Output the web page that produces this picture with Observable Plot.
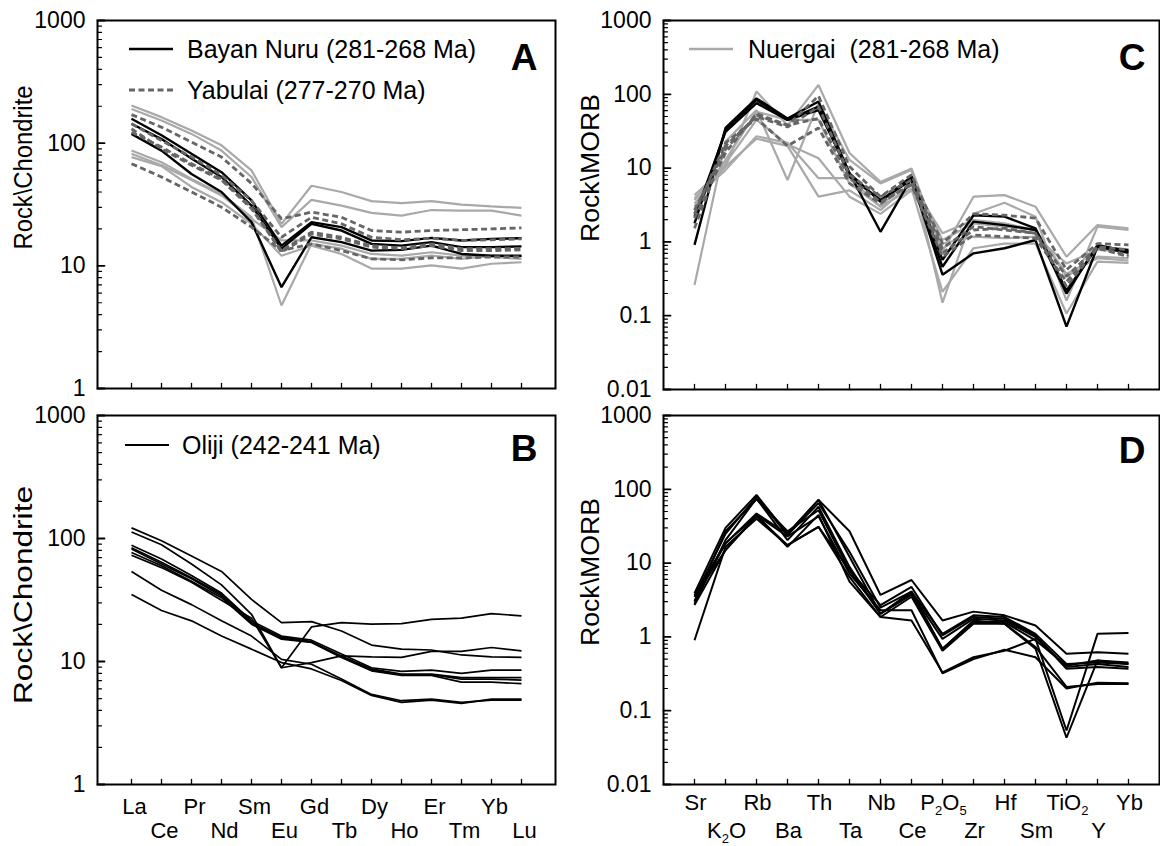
<!DOCTYPE html>
<html>
<head>
<meta charset="utf-8">
<script src="https://cdn.jsdelivr.net/npm/d3@7"></script>
<script src="https://cdn.jsdelivr.net/npm/@observablehq/plot@0.6"></script>
<style>
  body { margin: 0; background: #fff; }
  #fig { position: relative; width: 1160px; height: 846px; font-family: "Liberation Sans", Arial, sans-serif; overflow: hidden; }
  .panel { position: absolute; }
  .legend { position: absolute; display: flex; align-items: center; font-size: 25px; line-height: 30px; white-space: pre; color: #000; }
  .legend svg { display: block; }
</style>
</head>
<body>
<div id="fig"></div>
<script>
// ---------- categories ----------
const REE = ["La","Ce","Pr","Nd","Sm","Eu","Gd","Tb","Dy","Ho","Er","Tm","Yb","Lu"];
const SPIDER = ["Sr","K2O","Rb","Ba","Th","Ta","Nb","Ce","P2O5","Zr","Hf","Sm","TiO2","Y","Yb"];
const chondriteTicks = [1, 10, 100, 1000];
const morbTicks = [0.01, 0.1, 1, 10, 100, 1000];

// ---------- Panel A: chondrite-normalised REE ----------
const bayanNuruREE = [
  [158,116,82,58,34.1,14.6,22.7,20.7,16.1,15.9,16.9,16.1,16.6,16.8],
  [144,108,75,53,31,13.8,22,19.4,15.1,14.6,15.6,14.2,14.2,14.4],
  [119,87,56,40,22.7,6.7,17.1,15.6,13.3,13.5,14.6,12.5,12.1,12.1]
];
const yabulaiREE = [
  [171,135,102,77,47,24.2,27.4,24.9,19.4,18.8,19.4,19.7,20,20.4],
  [144,105,77,55,34,17.1,24.9,22,17.1,16.3,16.8,16.1,16.3,16.6],
  [131,90,66,50,29.2,13.3,18.8,17.1,14.6,14,15.1,13.8,13.8,13.8],
  [123,93,68,51,30.1,12.9,18.2,16.6,14.2,13.8,14.6,13.3,13.3,13.5],
  [68,53,40,30.1,20.7,13.3,15.1,13.3,11.4,11.2,11.6,11.6,11.8,11.8]
];
const nuergaiREE = [
  [203,163,127,96,60,22,45,40,33.7,32.4,33.7,31.6,30.5,29.7],
  [190,153,119,87,53,20.7,34.5,31,27,25.7,28.5,28.2,28.2,25.7],
  [87,70,51,38.6,24.9,4.75,15.1,13.8,11.4,11.4,12.1,11.4,12.1,11.9],
  [77,65,44,33,22,12.1,14.6,12.5,9.5,9.5,10.1,9.5,10.4,10.7],
  [82,66,50,37.5,24.2,16.1,16.1,14.6,12.5,12.1,12.9,12.1,11.8,11.4]
];

// ---------- Panel B: Oliji REE ----------
const olijiREE = [
  [122,96,72,54,32,20.7,21.1,17.7,13.6,12.6,12.4,11.3,10.9,10.8],
  [113,89,62,42,24.2,8.9,19.1,20.7,20.1,20.3,22,22.5,24.5,23.5],
  [88,68,50,36,21.4,16.1,14.9,11.5,8.9,8.3,8.5,8.0,8.5,8.5],
  [84,64,48,35,20.7,15.7,14.5,11.1,8.7,7.9,7.9,7.4,7.4,7.4],
  [77,60,45,33,20.1,15.2,14.3,10.8,8.4,7.7,7.7,6.8,6.8,6.6],
  [73,58,44,31.5,22.5,8.9,9.8,11.1,10.9,10.8,12.1,12.1,13,12.2],
  [54,38,29,21.4,16.1,10.4,9.5,7.2,5.4,4.8,4.95,4.65,4.86,4.86],
  [35,26,21.4,16.1,12.6,9.8,8.7,7.0,5.3,4.65,4.86,4.56,4.95,4.95],
  [82,62,47,34,20.4,15.5,14.4,10.9,8.5,7.8,7.8,7.2,7.2,7.06]
];

// ---------- Panel C: MORB-normalised ----------
const bayanNuruMORB = [
  [0.91,35,88,47,80,8.5,1.37,7.3,0.36,0.70,0.82,1.06,0.071,0.86,0.78],
  [1.78,33,84,45,68,7.7,3.7,6.9,0.46,1.88,1.69,1.45,0.20,0.91,0.74],
  [2.2,31,76,45,61,8.5,3.5,7.7,0.57,2.3,2.2,1.53,0.22,0.86,0.71]
];
const yabulaiMORB = [
  [2.7,18,52,38,95,10.5,4.1,8.1,0.95,2.4,2.3,2.1,0.42,0.95,0.91],
  [2.4,22,47,20,35,6.2,3.3,6.2,0.70,1.45,1.53,1.31,0.34,0.86,0.78],
  [2.1,16,55,38,47,7.3,3.5,5.9,0.63,1.24,1.18,1.12,0.29,0.82,0.63],
  [1.53,20,50,36,68,8.1,4.1,6.9,0.82,1.61,1.45,1.31,0.25,0.84,0.66]
];
const nuergaiMORB = [
  [4.3,10.5,109,38,134,16,6.5,9.9,0.74,4.1,4.3,3.0,0.63,1.69,1.53],
  [0.26,23,61,6.9,76,12.9,6.2,9.4,0.15,2.4,3.4,2.2,0.16,1.61,1.45],
  [3.9,9.4,27,22,7.3,7.3,3.0,5.3,0.21,0.82,0.95,0.95,0.107,0.54,0.52],
  [3.3,10.5,25,20,4.1,5.0,2.7,6.2,1.31,1.98,1.78,1.45,0.37,0.60,0.56],
  [3.7,11.6,45,21,13.6,4.1,2.4,5.0,0.95,1.18,1.12,1.18,0.51,0.78,0.74],
  [3.0,12.9,58,45,45,6.2,3.0,7.7,1.06,1.78,1.61,1.45,0.34,0.63,0.60]
];

// ---------- Panel D: Oliji MORB-normalised ----------
const olijiMORB = [
  [3.9,30,84,25,72,27,3.7,5.9,1.67,2.2,1.96,1.43,0.59,0.62,0.59],
  [3.5,25,79,24,65,14.2,2.5,4.1,1.10,1.96,1.86,1.10,0.43,0.45,0.43],
  [2.8,20.5,75,20.5,58,8.9,2.06,3.9,0.94,1.76,1.67,0.99,0.39,0.43,0.39],
  [3.1,18.5,45,16.6,45,5.6,1.86,3.5,0.65,1.51,1.51,0.69,0.043,0.48,0.43],
  [0.90,16.6,40,17.5,31,6.5,1.86,1.67,0.33,0.53,0.65,0.94,0.054,1.10,1.13],
  [2.7,15,45,23,43,7.2,2.3,2.3,0.32,0.50,0.67,0.53,0.20,0.24,0.235],
  [3.0,27,73,27,52,8.0,2.7,4.75,1.05,1.86,1.76,1.05,0.37,0.39,0.37],
  [3.7,18.5,47,25,72,12.2,2.06,4.1,0.69,1.59,1.59,0.90,0.41,0.48,0.45],
  [3.5,15,43,17.5,31,8.0,2.06,3.7,0.69,1.67,1.51,0.73,0.21,0.23,0.23]
];

// ---------- legend labels ----------
const legendBayan = "Bayan Nuru (281-268 Ma)";
const legendYabulai = "Yabulai (277-270 Ma)";
const legendOliji = "Oliji (242-241 Ma)";
const legendNuergai = "Nuergai  (281-268 Ma)";

// ---------- styles (kept apart from data) ----------
const FONT = "'Liberation Sans', Arial, Helvetica, sans-serif";
const sBlack = {stroke: "#000", strokeWidth: 2.4};
const sDash = {stroke: "#666", strokeWidth: 2.8, strokeDasharray: "6,3.5"};
const sGray = {stroke: "#a9a9a9", strokeWidth: 2.2};
const sThin = {stroke: "#000", strokeWidth: 1.7};
const sMid = {stroke: "#000", strokeWidth: 2};
const tickShape = {draw(context, l) { context.moveTo(0, 0); context.lineTo(0, -l); }};

function tidy(series, elements, name) {
  const rows = [];
  series.forEach((s, si) => s.forEach((v, i) => rows.push({el: elements[i], v, key: name + si})));
  return rows;
}

function subscriptify(svg) {
  const chem = new Set(["K2O", "P2O5", "TiO2"]);
  d3.select(svg).selectAll("text").each(function () {
    const t = this.textContent;
    if (!chem.has(t)) return;
    const parts = t.split(/(\d+)/).filter(p => p.length);
    this.textContent = "";
    let shifted = false;
    for (const p of parts) {
      const ts = document.createElementNS("http://www.w3.org/2000/svg", "tspan");
      ts.textContent = p;
      if (/^\d+$/.test(p)) {
        ts.setAttribute("font-size", "13");
        ts.setAttribute("dy", "5");
        shifted = true;
      } else if (shifted) {
        ts.setAttribute("dy", "-5");
        shifted = false;
      }
      this.appendChild(ts);
    }
  });
}

function makePanel(cfg) {
  const {elements, series, yDomain, yMajor, yLabel, letter, left, top, width, height,
         mLeft, mRight, mTop, mBottom, labelDx, labelDy, labelLength,
         letterDx, letterDy, xLabels, row1Dy, row2Dy, xLabelDx} = cfg;
  const minor = [];
  for (let d = yDomain[0]; d < yDomain[1] * 0.999; d *= 10)
    for (let k = 2; k <= 9; k++) minor.push(+(d * k).toPrecision(3));

  const marks = [
    // inward ticks on the left frame edge
    Plot.vector(minor, {y: d => d, frameAnchor: "left", rotate: 90, length: 4, anchor: "start",
      shape: tickShape, stroke: "#000", strokeWidth: 1.2}),
    Plot.vector(yMajor, {y: d => d, frameAnchor: "left", rotate: 90, length: 7, anchor: "start",
      shape: tickShape, stroke: "#000", strokeWidth: 1.8}),
    // inward ticks on the bottom frame edge
    Plot.vector(elements, {x: d => d, frameAnchor: "bottom", rotate: 0, length: 5, anchor: "start",
      shape: tickShape, stroke: "#000", strokeWidth: 1.3}),
    Plot.axisY({ticks: yMajor, tickSize: 0, tickPadding: 12, tickFormat: d => String(d), label: null, fontSize: 23})
  ];
  for (const s of series) {
    marks.push(Plot.line(tidy(s.data, elements, s.name), {
      x: "el", y: "v", z: "key", strokeLinejoin: "miter", strokeLinecap: "butt", ...s.style
    }));
  }
  marks.push(Plot.frame({strokeWidth: 2}));
  marks.push(Plot.text([letter], {text: d => d, frameAnchor: "top-right", textAnchor: "end", lineAnchor: "top",
    dx: letterDx, dy: letterDy, fontSize: 37, fontWeight: "bold"}));
  marks.push(Plot.text([yLabel], {text: d => d, frameAnchor: "left", rotate: -90, dx: labelDx, dy: labelDy,
    fontSize: 26, textAnchor: "middle", lineAnchor: "middle"}));
  if (xLabels) {
    marks.push(Plot.text(elements.filter((d, i) => i % 2 === 0), {x: d => d, text: d => d, frameAnchor: "bottom",
      dy: row1Dy, dx: xLabelDx, fontSize: 22}));
    marks.push(Plot.text(elements.filter((d, i) => i % 2 === 1), {x: d => d, text: d => d, frameAnchor: "bottom",
      dy: row2Dy, dx: xLabelDx, fontSize: 22}));
  }
  const svg = Plot.plot({
    width, height, marginLeft: mLeft, marginRight: mRight, marginTop: mTop, marginBottom: mBottom,
    x: {type: "point", domain: elements, padding: 1, axis: null},
    y: {type: "log", domain: yDomain},
    style: {fontFamily: FONT, fontSize: "22px", color: "#000", background: "transparent", overflow: "visible"},
    marks
  });
  subscriptify(svg);
  d3.select(svg).selectAll("text").filter(function () { return this.textContent === yLabel; })
    .attr("textLength", labelLength).attr("lengthAdjust", "spacingAndGlyphs");
  const wrap = document.createElement("div");
  wrap.className = "panel";
  wrap.style.left = left + "px";
  wrap.style.top = top + "px";
  wrap.appendChild(svg);
  document.getElementById("fig").appendChild(wrap);
}

function addLegend(left, y, label, style, gap) {
  const div = document.createElement("div");
  div.className = "legend";
  div.style.left = left + "px";
  div.style.top = (y - 15) + "px";
  const ns = "http://www.w3.org/2000/svg";
  const s = document.createElementNS(ns, "svg");
  s.setAttribute("width", 44); s.setAttribute("height", 30);
  const ln = document.createElementNS(ns, "line");
  ln.setAttribute("x1", 0); ln.setAttribute("x2", 44); ln.setAttribute("y1", 15); ln.setAttribute("y2", 15);
  ln.setAttribute("stroke", style.stroke); ln.setAttribute("stroke-width", style.strokeWidth);
  if (style.strokeDasharray) ln.setAttribute("stroke-dasharray", style.strokeDasharray);
  s.appendChild(ln);
  div.appendChild(s);
  const sp = document.createElement("span");
  sp.style.marginLeft = gap + "px";
  sp.textContent = label;
  div.appendChild(sp);
  document.getElementById("fig").appendChild(div);
}

// Panel A
makePanel({
  elements: REE, yDomain: [1, 1000], yMajor: chondriteTicks, yLabel: "Rock\\Chondrite", letter: "A",
  series: [
    {name: "nu", data: nuergaiREE, style: sGray},
    {name: "bn", data: bayanNuruREE, style: sBlack},
    {name: "ya", data: yabulaiREE, style: sDash}
  ],
  left: 0, top: 0, width: 580, height: 400, mLeft: 97, mRight: 25, mTop: 20, mBottom: 12,
  labelDx: -74, labelDy: -37, labelLength: 164, letterDx: -18, letterDy: 23, xLabels: false
});
// Panel B
makePanel({
  elements: REE, yDomain: [1, 1000], yMajor: chondriteTicks, yLabel: "Rock\\Chondrite", letter: "B",
  series: [{name: "ol", data: olijiREE, style: sThin}],
  left: 0, top: 400, width: 580, height: 446, mLeft: 97, mRight: 25, mTop: 15, mBottom: 62,
  labelDx: -74, labelDy: -5, labelLength: 218, letterDx: -18, letterDy: 19,
  xLabels: true, row1Dy: 29, row2Dy: 53, xLabelDx: 3
});
// Panel C
makePanel({
  elements: SPIDER, yDomain: [0.01, 1000], yMajor: morbTicks, yLabel: "Rock\\MORB", letter: "C",
  series: [
    {name: "nu", data: nuergaiMORB, style: sGray},
    {name: "bn", data: bayanNuruMORB, style: sBlack},
    {name: "ya", data: yabulaiMORB, style: sDash}
  ],
  left: 580, top: 0, width: 580, height: 400, mLeft: 83, mRight: 1, mTop: 20, mBottom: 11,
  labelDx: -73, labelDy: -37, labelLength: 148, letterDx: -14, letterDy: 23, xLabels: false
});
// Panel D
makePanel({
  elements: SPIDER, yDomain: [0.01, 1000], yMajor: morbTicks, yLabel: "Rock\\MORB", letter: "D",
  series: [{name: "ol", data: olijiMORB, style: sMid}],
  left: 580, top: 400, width: 580, height: 446, mLeft: 83, mRight: 1, mTop: 15, mBottom: 62,
  labelDx: -73, labelDy: -28, labelLength: 148, letterDx: -14, letterDy: 21,
  xLabels: true, row1Dy: 25, row2Dy: 53, xLabelDx: 1
});

// Legends
addLegend(129, 49, legendBayan, {stroke: "#000", strokeWidth: 2.5}, 14);
addLegend(129, 90, legendYabulai, {stroke: "#666", strokeWidth: 3, strokeDasharray: "6,3.5"}, 14);
addLegend(125, 445, legendOliji, {stroke: "#000", strokeWidth: 2.2}, 13);
addLegend(689, 49, legendNuergai, {stroke: "#a9a9a9", strokeWidth: 2.5}, 15);
</script>
</body>
</html>
